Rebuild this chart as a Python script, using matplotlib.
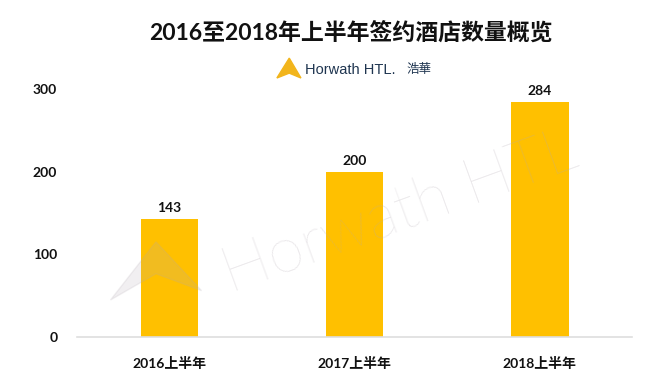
import matplotlib
matplotlib.use("Agg")
import matplotlib.pyplot as plt
from matplotlib.patches import Polygon

plt.rcParams['font.family'] = ['Lato', 'Noto Sans CJK SC', 'DejaVu Sans']

# data
categories = ['2016上半年', '2017上半年', '2018上半年']
hotels = [143, 200, 284]
y_ticks = [0, 100, 200, 300]

fig = plt.figure(figsize=(6.5, 3.75), dpi=100)
ax = fig.add_axes([0.118, 0.101, 0.855, 0.662])

x = range(len(categories))
bars = ax.bar(x, hotels, width=0.31, color='#FFC000', zorder=2)
for b, v in zip(bars, hotels):
    ax.text(b.get_x() + b.get_width() / 2, v + 6, str(v), ha='center', va='bottom',
            fontsize=10, fontweight='bold', color='#111111', clip_on=False)

ax.set_xlim(-0.5, 2.5)
ax.set_ylim(0, 300)
ax.set_yticks(y_ticks)
ax.set_yticklabels([str(t) for t in y_ticks], fontsize=10, fontweight='bold', color='#111111')
ax.set_xticks(list(x))
ax.set_xticklabels(categories, fontsize=10, fontweight='bold', color='#111111')
ax.tick_params(axis='both', length=0)
ax.tick_params(axis='y', pad=14)
ax.tick_params(axis='x', pad=14)
for s in ['top', 'right', 'left']:
    ax.spines[s].set_visible(False)
ax.spines['bottom'].set_color('#dedede')
ax.spines['bottom'].set_linewidth(1.2)

# title and logo line
fig.text(0.54, 0.912, '2016至2018年上半年签约酒店数量概览', ha='center', va='center',
         fontsize=16.5, fontweight='bold', color='#111111')
logo = Polygon([[0.426, 0.792], [0.445, 0.845], [0.463, 0.792], [0.445, 0.805]],
               closed=True, transform=fig.transFigure, color='#F2B51C', zorder=5)
fig.add_artist(logo)
fig.text(0.469, 0.812, 'Horwath HTL.', ha='left', va='center', fontsize=10.5,
         color='#1F3550', family='Liberation Sans')
fig.text(0.626, 0.815, '浩華', ha='left', va='center', fontsize=9,
         color='#1F3550', family='Noto Sans CJK SC', fontweight='light')

# faint watermark over the plot
fig.text(0.615, 0.43, 'Horwath HTL', ha='center', va='center', fontsize=46,
         color='#b4aab4', alpha=0.32, rotation=20, family='Lato',
         fontweight='light', zorder=10)
wm = Polygon([[0.17, 0.20], [0.24, 0.355], [0.31, 0.225], [0.24, 0.27]],
             closed=True, transform=fig.transFigure, color='#b4aab4', alpha=0.18, zorder=10)
fig.add_artist(wm)

fig.savefig('out.png', dpi=100, facecolor='white')
